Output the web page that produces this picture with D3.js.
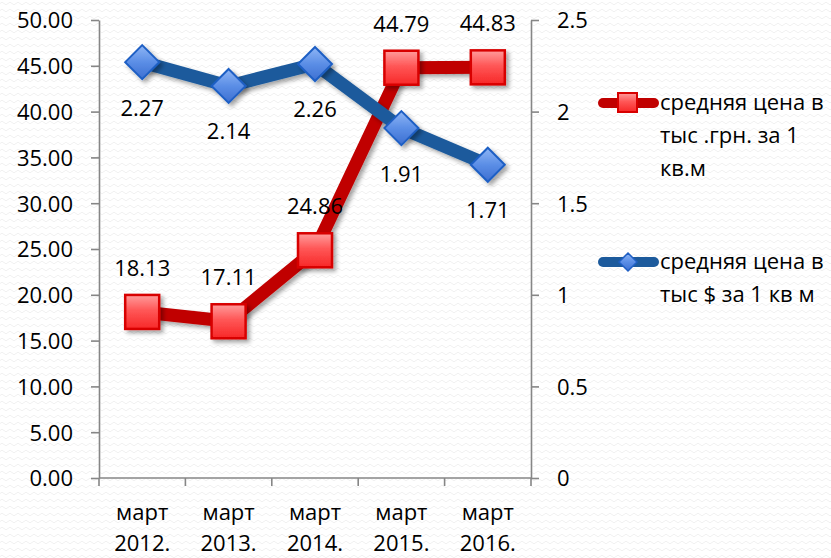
<!DOCTYPE html>
<html>
<head>
<meta charset="utf-8">
<script src="https://cdn.jsdelivr.net/npm/d3@7"></script>
<style>
  html, body { margin: 0; padding: 0; background: #ffffff; overflow: hidden; }
  svg { display: block; font-family: "Open Sans", "Noto Sans", sans-serif; }
</style>
</head>
<body>
<svg id="chart" width="831" height="558"></svg>
<script>
// Categories and series
const months = ["март", "март", "март", "март", "март"];
const years = ["2012.", "2013.", "2014.", "2015.", "2016."];
const priceUah = [18.13, 17.11, 24.86, 44.79, 44.83];   // тыс. грн. за 1 кв.м
const priceUsd = [2.27, 2.14, 2.26, 1.91, 1.71];        // тыс. $ за 1 кв.м
const leftTicks = [0, 5, 10, 15, 20, 25, 30, 35, 40, 45, 50];
const rightTicks = [0, 0.5, 1, 1.5, 2, 2.5];
const legendUah = ["средняя цена в", "тыс .грн. за 1", "кв.м"];
const legendUsd = ["средняя цена в", "тыс $ за 1 кв м"];

const svg = d3.select("#chart");
const W = 831, H = 558;
const plot = { left: 99, right: 531, top: 20, bottom: 478 };
const fontFamily = "'Open Sans', 'Noto Sans', sans-serif";
const fontSize = 22;

const defs = svg.append("defs");

// faint woven background texture
const pat = defs.append("pattern").attr("id", "bgPat")
  .attr("patternUnits", "userSpaceOnUse").attr("width", 8).attr("height", 7);
pat.append("path").attr("d", "M0 3.5 Q2 1 4 3.5 T8 3.5")
  .attr("fill", "none").attr("stroke", "#f1f1f1").attr("stroke-width", 1);
svg.append("rect").attr("width", W).attr("height", H).attr("fill", "#ffffff");
svg.append("rect").attr("width", W).attr("height", H).attr("fill", "url(#bgPat)");

// marker shading
const gRed = defs.append("linearGradient").attr("id", "gRed")
  .attr("x1", 0).attr("y1", 0).attr("x2", 0).attr("y2", 1);
gRed.append("stop").attr("offset", "0%").attr("stop-color", "#ff9c9c");
gRed.append("stop").attr("offset", "45%").attr("stop-color", "#ff5757");
gRed.append("stop").attr("offset", "100%").attr("stop-color", "#f72828");

const gBlue = defs.append("linearGradient").attr("id", "gBlue")
  .attr("x1", 0).attr("y1", 0).attr("x2", 0).attr("y2", 1);
gBlue.append("stop").attr("offset", "0%").attr("stop-color", "#8fb6f5");
gBlue.append("stop").attr("offset", "50%").attr("stop-color", "#5b8ee6");
gBlue.append("stop").attr("offset", "100%").attr("stop-color", "#3d6fd1");

const shadow = defs.append("filter").attr("id", "shadow")
  .attr("x", "-30%").attr("y", "-30%").attr("width", "170%").attr("height", "170%");
shadow.append("feDropShadow").attr("dx", 3).attr("dy", 3).attr("stdDeviation", 2.2)
  .attr("flood-color", "#000").attr("flood-opacity", 0.35);

// scales
const x = d3.scaleBand().domain(d3.range(years.length))
  .range([plot.left, plot.right]).padding(0);
const cx = i => x(i) + x.bandwidth() / 2;
const yL = d3.scaleLinear().domain([0, 50]).range([plot.bottom, plot.top]);
const yR = d3.scaleLinear().domain([0, 2.5]).range([plot.bottom, plot.top]);

const axisColor = "#868686";

// left axis
const axL = svg.append("g").attr("transform", `translate(${plot.left},0)`)
  .call(d3.axisLeft(yL).tickValues(leftTicks).tickFormat(d3.format(".2f"))
    .tickSize(8).tickSizeOuter(0).tickPadding(18));
// right axis
const axR = svg.append("g").attr("transform", `translate(${plot.right},0)`)
  .call(d3.axisRight(yR).tickValues(rightTicks).tickFormat(d => String(d))
    .tickSize(8).tickSizeOuter(0).tickPadding(18));
[axL, axR].forEach(a => {
  a.select(".domain").attr("stroke", axisColor).attr("stroke-width", 1.6);
  a.selectAll(".tick line").attr("stroke", axisColor).attr("stroke-width", 1.6);
  a.selectAll(".tick text").attr("fill", "#000").attr("dy", "0.36em")
    .style("font-size", fontSize + "px").style("font-family", fontFamily);
});

// bottom axis with ticks between categories
const axB = svg.append("g").attr("transform", `translate(0,${plot.bottom})`);
axB.append("line").attr("x1", plot.left).attr("x2", plot.right)
  .attr("stroke", axisColor).attr("stroke-width", 1.6);
const bounds = d3.range(years.length + 1).map(i => i < years.length ? x(i) : x(i - 1) + x.bandwidth());
axB.selectAll("line.tk").data(bounds).join("line").attr("class", "tk")
  .attr("x1", d => d).attr("x2", d => d).attr("y1", 0).attr("y2", 8)
  .attr("stroke", axisColor).attr("stroke-width", 1.6);
const catLbl = axB.selectAll("text.cat").data(years).join("text").attr("class", "cat")
  .attr("text-anchor", "middle").attr("font-size", fontSize).attr("fill", "#000");
catLbl.append("tspan").attr("x", (d, i) => cx(i)).attr("y", 42).text((d, i) => months[i]);
catLbl.append("tspan").attr("x", (d, i) => cx(i)).attr("y", 73).text(d => d);

// series lines
const lineUah = d3.line().x((d, i) => cx(i)).y(d => yL(d));
const lineUsd = d3.line().x((d, i) => cx(i)).y(d => yR(d));
const redLine = "#c00000", blueLine = "#1c5a9c";

svg.append("path").datum(priceUah).attr("d", lineUah)
  .attr("fill", "none").attr("stroke", redLine).attr("stroke-width", 13)
  .attr("stroke-linejoin", "round").attr("filter", "url(#shadow)");

const sq = 34;
svg.selectAll("rect.mUah").data(priceUah).join("rect").attr("class", "mUah")
  .attr("x", (d, i) => cx(i) - sq / 2).attr("y", d => yL(d) - sq / 2)
  .attr("width", sq).attr("height", sq)
  .attr("fill", "url(#gRed)").attr("stroke", "#d80000").attr("stroke-width", 2.5)
  .attr("filter", "url(#shadow)");

svg.append("path").datum(priceUsd).attr("d", lineUsd)
  .attr("fill", "none").attr("stroke", blueLine).attr("stroke-width", 13)
  .attr("stroke-linejoin", "round").attr("filter", "url(#shadow)");

const dm = 17;
svg.selectAll("path.mUsd").data(priceUsd).join("path").attr("class", "mUsd")
  .attr("d", (d, i) => {
    const px = cx(i), py = yR(d);
    return `M${px},${py - dm} L${px + dm},${py} L${px},${py + dm} L${px - dm},${py} Z`;
  })
  .attr("fill", "url(#gBlue)").attr("stroke", "#1f5fc4").attr("stroke-width", 2)
  .attr("stroke-linejoin", "miter").attr("filter", "url(#shadow)");

// data labels
const fmt2 = d3.format(".2f");
svg.selectAll("text.lUah").data(priceUah).join("text").attr("class", "lUah")
  .attr("x", (d, i) => cx(i)).attr("y", d => yL(d) - 44)
  .attr("dy", "0.36em").attr("text-anchor", "middle")
  .attr("font-size", fontSize).attr("fill", "#000").text(d => fmt2(d));
svg.selectAll("text.lUsd").data(priceUsd).join("text").attr("class", "lUsd")
  .attr("x", (d, i) => cx(i)).attr("y", d => yR(d) + 45.5)
  .attr("dy", "0.36em").attr("text-anchor", "middle")
  .attr("font-size", fontSize).attr("fill", "#000").text(d => fmt2(d));

// legend
function legendItem(y0, lines, color, kind) {
  const g = svg.append("g");
  g.append("line").attr("x1", 603).attr("x2", 654).attr("y1", y0).attr("y2", y0)
    .attr("stroke", color).attr("stroke-width", 10).attr("stroke-linecap", "round");
  if (kind === "square") {
    g.append("rect").attr("x", 618).attr("y", y0 - 10).attr("width", 19).attr("height", 19)
      .attr("fill", "url(#gRed)").attr("stroke", "#d80000").attr("stroke-width", 2);
  } else {
    const s = 9, px = 628;
    g.append("path").attr("d", `M${px},${y0 - s} L${px + s},${y0} L${px},${y0 + s} L${px - s},${y0} Z`)
      .attr("fill", "url(#gBlue)").attr("stroke", "#1f5fc4").attr("stroke-width", 1.5);
  }
  g.selectAll("text").data(lines).join("text")
    .attr("x", 660).attr("y", (d, i) => y0 + i * 33).attr("dy", "0.33em")
    .attr("font-size", fontSize).attr("fill", "#000").text(d => d);
}
legendItem(103, legendUah, redLine, "square");
legendItem(262, legendUsd, blueLine, "diamond");
</script>
</body>
</html>
